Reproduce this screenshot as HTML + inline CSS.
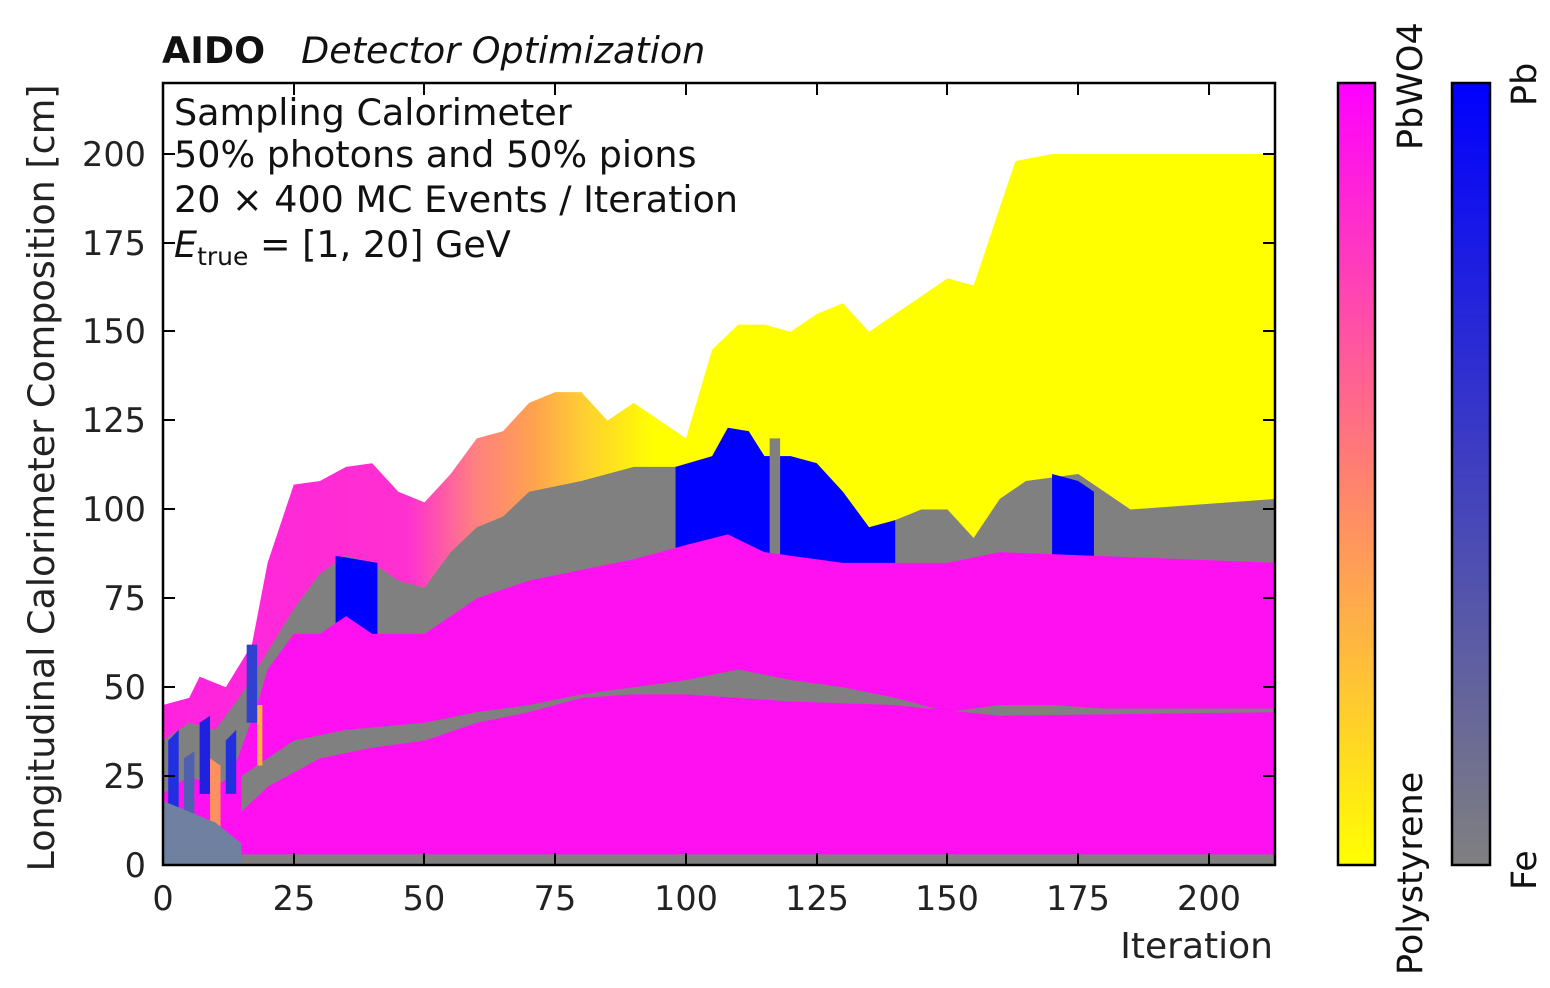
<!DOCTYPE html>
<html><head><meta charset="utf-8"><style>
body{margin:0;background:#fff}
svg{display:block;font-family:"DejaVu Sans","Liberation Sans",sans-serif}
</style></head><body>
<svg width="1550" height="988" viewBox="0 0 1550 988" xmlns="http://www.w3.org/2000/svg">
<defs>
<linearGradient id="topg" gradientUnits="userSpaceOnUse" x1="0" y1="0" x2="213" y2="0">
<stop offset="0" stop-color="#ff22e0"/><stop offset="0.22" stop-color="#ff30d0"/><stop offset="0.28" stop-color="#ff8080"/><stop offset="0.33" stop-color="#ffa050"/><stop offset="0.38" stop-color="#ffd030"/><stop offset="0.44" stop-color="#ffff00"/><stop offset="1" stop-color="#ffff00"/>
</linearGradient>
<linearGradient id="cb1" x1="0" y1="0" x2="0" y2="1">
<stop offset="0" stop-color="#ff00ff"/><stop offset="0.5" stop-color="#ff8070"/><stop offset="1" stop-color="#ffff00"/>
</linearGradient>
<linearGradient id="cb2" x1="0" y1="0" x2="0" y2="1">
<stop offset="0" stop-color="#0000ff"/><stop offset="1" stop-color="#808080"/>
</linearGradient>
<clipPath id="pc"><rect x="163" y="83" width="1112" height="782"/></clipPath>
</defs>
<g clip-path="url(#pc)">
<g transform="translate(163,865) scale(5.23,-3.555)">
<polygon fill="url(#topg)" points="0,0 0,45 5,47 7,53 12,50 17,62 20,85 25,107 30,108 35,112 40,113 45,105 50,102 55,110 60,120 65,122 70,130 75,133 80,133 85,125 90,130 95,125 100,120 105,145 110,152 115,152 120,150 125,155 130,158 135,150 140,155 145,160 150,165 155,163 160,185 163,198 170,200 213,200 213,0"/>
<polygon fill="#808080" points="0,0 0,35 5,40 10,38 15,48 20,60 25,72 30,82 35,87 40,85 45,80 50,78 55,88 60,95 65,98 70,105 80,108 90,112 100,112 105,115 108,123 112,122 115,115 120,115 125,113 130,105 135,95 140,97 145,100 150,100 155,92 160,103 165,108 175,110 180,105 185,100 213,103 213,0"/>
<polygon fill="#0000ff" points="98,0 98,112 105,115 108,123 112,122 115,115 120,115 125,113 130,105 135,95 140,97 140,0"/>
<polygon fill="#0000ff" points="170,0 170,110 175,108 178,105 178,0"/>
<polygon fill="#0000ff" points="33,60 33,87 41,85 41,60"/>
<polygon fill="#808080" points="116,0 116,120 118,120 118,0"/>
<polygon fill="#ff10f0" points="0,0 0,20 5,25 10,22 13,25 18,45 20,55 25,65 30,65 35,70 40,65 50,65 60,75 70,80 80,83 90,86 100,90 108,93 115,88 130,85 150,85 160,88 213,85 213,0"/>
<polygon fill="#808080" points="15,0 15,25 20,30 25,35 35,38 50,40 60,43 70,45 80,48 90,50 100,52 110,55 120,52 130,50 140,47 150,43 160,45 170,45 180,44 213,44 213,0"/>
<polygon fill="#ff10f0" points="0,0 0,10 10,8 15,15 20,22 30,30 40,33 50,35 60,40 70,43 80,47 90,48 100,48 120,46 140,45 160,42 213,43 213,0"/>
<polygon fill="#2030e0" points="1,5 1,35 3,38 3,5"/>
<polygon fill="#5060b0" points="4,5 4,30 6,32 6,5"/>
<polygon fill="#2020e0" points="7,20 7,40 9,42 9,20"/>
<polygon fill="#ff9060" points="9,10 9,30 11,28 11,10"/>
<polygon fill="#2030e0" points="12,20 12,35 14,38 14,20"/>
<polygon fill="#ffb040" points="18,28 18,45 19,45 19,28"/>
<polygon fill="#3040d0" points="16,40 16,62 18,62 18,40"/>
<polygon fill="#808080" points="0,0 0,3 213,3 213,0"/>
<polygon fill="#7080a0" points="0,0 0,18 10,12 15,6 15,0"/>
</g>
</g>
<rect x="163" y="83" width="1112" height="782" fill="none" stroke="#000" stroke-width="2.5"/>
<g stroke="#000" stroke-width="2">
<path d="M163,865v-12M294,865v-12M424,865v-12M555,865v-12M686,865v-12M817,865v-12M947,865v-12M1078,865v-12M1209,865v-12"/>
<path d="M163,83v12M294,83v12M424,83v12M555,83v12M686,83v12M817,83v12M947,83v12M1078,83v12M1209,83v12"/>
<path d="M163,865h12M163,776h12M163,687h12M163,598h12M163,509h12M163,420h12M163,331h12M163,243h12M163,154h12"/>
<path d="M1275,865h-12M1275,776h-12M1275,687h-12M1275,598h-12M1275,509h-12M1275,420h-12M1275,331h-12M1275,243h-12M1275,154h-12"/>
</g>
<g font-size="33.5" fill="#222" text-anchor="middle">
<text x="163" y="910">0</text><text x="294" y="910">25</text><text x="424" y="910">50</text><text x="555" y="910">75</text><text x="686" y="910">100</text><text x="817" y="910">125</text><text x="947" y="910">150</text><text x="1078" y="910">175</text><text x="1209" y="910">200</text>
</g>
<g font-size="33.5" fill="#222" text-anchor="end">
<text x="146" y="877">0</text><text x="146" y="788">25</text><text x="146" y="699">50</text><text x="146" y="610">75</text><text x="146" y="521">100</text><text x="146" y="432">125</text><text x="146" y="343">150</text><text x="146" y="255">175</text><text x="146" y="166">200</text>
</g>
<text x="1273" y="958" font-size="36" fill="#222" text-anchor="end">Iteration</text>
<text transform="translate(54,478) rotate(-90)" font-size="36.5" fill="#222" text-anchor="middle">Longitudinal Calorimeter Composition [cm]</text>
<text x="162" y="63" font-size="36.5" fill="#111"><tspan font-weight="bold">AIDO</tspan><tspan dx="36" font-style="italic">Detector Optimization</tspan></text>
<g font-size="36.5" fill="#111">
<text x="174" y="125">Sampling Calorimeter</text>
<text x="174" y="167">50% photons and 50% pions</text>
<text x="174" y="212">20 × 400 MC Events / Iteration</text>
<text x="174" y="257"><tspan font-style="italic">E</tspan><tspan font-size="25" dy="8">true</tspan><tspan dy="-8"> = [1, 20] GeV</tspan></text>
</g>
<rect x="1338" y="83" width="37" height="782" fill="url(#cb1)" stroke="#000" stroke-width="2.5"/>
<rect x="1452" y="83" width="38" height="782" fill="url(#cb2)" stroke="#000" stroke-width="2.5"/>
<text transform="translate(1422,150) rotate(-90)" font-size="35" fill="#111">PbWO4</text>
<text transform="translate(1422,975) rotate(-90)" font-size="35" fill="#111">Polystyrene</text>
<text transform="translate(1536,106) rotate(-90)" font-size="35" fill="#111">Pb</text>
<text transform="translate(1536,890) rotate(-90)" font-size="35" fill="#111">Fe</text>
</svg>
</body></html>
